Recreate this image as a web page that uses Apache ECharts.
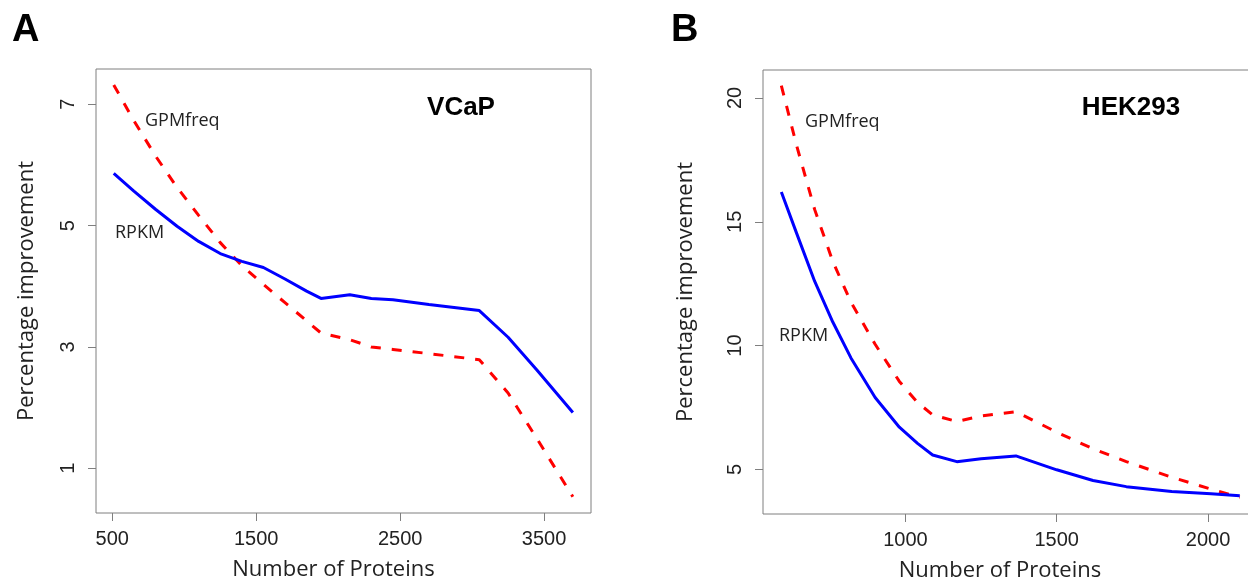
<!DOCTYPE html>
<html>
<head>
<meta charset="utf-8">
<script src="https://cdn.jsdelivr.net/npm/echarts@6/dist/echarts.min.js"></script>
<style>
  html, body { margin: 0; padding: 0; background: #fff; overflow: hidden; }
  #chart { width: 1272px; height: 582px; }
</style>
</head>
<body>
<div id="chart"></div>
<script>
// ---------- Panel A: VCaP ----------
var proteinsA = [510, 650, 800, 950, 1100, 1250, 1400, 1550, 1700, 1850, 1950, 2150, 2300, 2450, 2700, 3050, 3250, 3450, 3700];
var gpmfreqA  = [7.32, 6.73, 6.15, 5.63, 5.17, 4.72, 4.34, 4.03, 3.73, 3.43, 3.23, 3.12, 3.00, 2.96, 2.89, 2.79, 2.24, 1.49, 0.53];
var rpkmA     = [5.86, 5.57, 5.27, 4.99, 4.74, 4.54, 4.41, 4.31, 4.12, 3.92, 3.80, 3.86, 3.80, 3.78, 3.70, 3.60, 3.16, 2.62, 1.92];
var xTicksA   = [500, 1500, 2500, 3500];
var yTicksA   = [1, 3, 5, 7];

// ---------- Panel B: HEK293 ----------
var proteinsB = [590, 640, 700, 760, 820, 900, 980, 1040, 1090, 1170, 1250, 1365, 1500, 1620, 1730, 1880, 2010, 2105];
var gpmfreqB  = [20.5, 18.1, 15.5, 13.4, 11.75, 10.05, 8.55, 7.7, 7.2, 6.93, 7.15, 7.33, 6.5, 5.83, 5.31, 4.68, 4.2, 3.87];
var rpkmB     = [16.2, 14.55, 12.6, 10.95, 9.5, 7.9, 6.7, 6.05, 5.58, 5.31, 5.43, 5.54, 4.98, 4.55, 4.30, 4.10, 4.01, 3.93];
var xTicksB   = [1000, 1500, 2000];
var yTicksB   = [5, 10, 15, 20];

var xName = 'Number of Proteins';
var yName = 'Percentage improvement';

function pairs(xs, ys) { return xs.map(function (x, i) { return [x, ys[i]]; }); }
function plain(v) { return String(v); }

var tickFont = 'Liberation Sans, Arial, sans-serif';
var textFont = 'Open Sans, Liberation Sans, sans-serif';
var gray = '#7f7f7f';

function xAxisCfg(idx, min, max, ticks, shift) {
  return {
    type: 'value', gridIndex: idx, min: min, max: max,
    axisLine: { show: false },
    splitLine: { show: false },
    axisTick: { show: true, customValues: ticks, length: 8, inside: false, lineStyle: { color: gray, width: 1 } },
    axisLabel: { show: true, customValues: ticks, formatter: plain, margin: 16, color: '#222', fontFamily: tickFont, fontSize: 20 },
    name: xName, nameLocation: 'middle', nameGap: 46,
    nameTextStyle: { fontFamily: textFont, fontSize: 22, color: '#222', padding: [0, shift, 0, 0] }
  };
}
function yAxisCfg(idx, min, max, ticks, gap) {
  return {
    type: 'value', gridIndex: idx, min: min, max: max,
    axisLine: { show: false },
    splitLine: { show: false },
    axisTick: { show: true, customValues: ticks, length: 8, inside: false, lineStyle: { color: gray, width: 1 } },
    axisLabel: { show: true, customValues: ticks, formatter: plain, rotate: 90, margin: 18, color: '#222', fontFamily: tickFont, fontSize: 20 },
    name: yName, nameLocation: 'middle', nameRotate: 90, nameGap: gap,
    nameTextStyle: { fontFamily: textFont, fontSize: 22, color: '#222' }
  };
}

var redStyle = { color: '#ff0000', width: 3, type: [10, 11] };
var blueStyle = { color: '#0000ff', width: 3, type: 'solid' };

var option = {
  animation: false,
  backgroundColor: '#ffffff',
  grid: [
    { left: 96, top: 69, width: 495, height: 444, outerBoundsMode: 'none', containLabel: false, show: true, borderColor: gray, borderWidth: 1, backgroundColor: 'transparent' },
    { left: 763, top: 70, width: 496, height: 444, outerBoundsMode: 'none', containLabel: false, show: true, borderColor: gray, borderWidth: 1, backgroundColor: 'transparent' }
  ],
  xAxis: [
    xAxisCfg(0, 386.8, 3826, xTicksA, 20),
    xAxisCfg(1, 529.4, 2168.5, xTicksB, 22)
  ],
  yAxis: [
    yAxisCfg(0, 0.263, 7.582, yTicksA, 58),
    yAxisCfg(1, 3.195, 21.13, yTicksB, 66)
  ],
  series: [
    { name: 'GPMfreq', type: 'line', xAxisIndex: 0, yAxisIndex: 0, data: pairs(proteinsA, gpmfreqA), showSymbol: false, symbol: 'none', lineStyle: redStyle, z: 3 },
    { name: 'RPKM', type: 'line', xAxisIndex: 0, yAxisIndex: 0, data: pairs(proteinsA, rpkmA), showSymbol: false, symbol: 'none', lineStyle: blueStyle, z: 4 },
    { name: 'GPMfreq', type: 'line', xAxisIndex: 1, yAxisIndex: 1, data: pairs(proteinsB, gpmfreqB), showSymbol: false, symbol: 'none', lineStyle: redStyle, z: 3 },
    { name: 'RPKM', type: 'line', xAxisIndex: 1, yAxisIndex: 1, data: pairs(proteinsB, rpkmB), showSymbol: false, symbol: 'none', lineStyle: blueStyle, z: 4 }
  ],
  graphic: [
    { type: 'text', left: 12, top: 12, style: { text: 'A', font: 'bold 38px Liberation Sans, Arial, sans-serif', fill: '#000' } },
    { type: 'text', left: 671, top: 12, style: { text: 'B', font: 'bold 38px Liberation Sans, Arial, sans-serif', fill: '#000' } },
    { type: 'text', x: 461, y: 108, style: { text: 'VCaP', font: 'bold 26px Liberation Sans, Arial, sans-serif', fill: '#000', align: 'center', verticalAlign: 'middle' } },
    { type: 'text', x: 1131, y: 108, style: { text: 'HEK293', font: 'bold 26px Liberation Sans, Arial, sans-serif', fill: '#000', align: 'center', verticalAlign: 'middle' } },
    { type: 'text', x: 145, y: 121, style: { text: 'GPMfreq', font: '18px Open Sans, sans-serif', fill: '#222', align: 'left', verticalAlign: 'middle' } },
    { type: 'text', x: 115, y: 233, style: { text: 'RPKM', font: '18px Open Sans, sans-serif', fill: '#222', align: 'left', verticalAlign: 'middle' } },
    { type: 'text', x: 805, y: 122, style: { text: 'GPMfreq', font: '18px Open Sans, sans-serif', fill: '#222', align: 'left', verticalAlign: 'middle' } },
    { type: 'text', x: 779, y: 336, style: { text: 'RPKM', font: '18px Open Sans, sans-serif', fill: '#222', align: 'left', verticalAlign: 'middle' } }
  ]
};

var chart = echarts.init(document.getElementById('chart'), null, { renderer: 'canvas' });
chart.setOption(option);
</script>
</body>
</html>
